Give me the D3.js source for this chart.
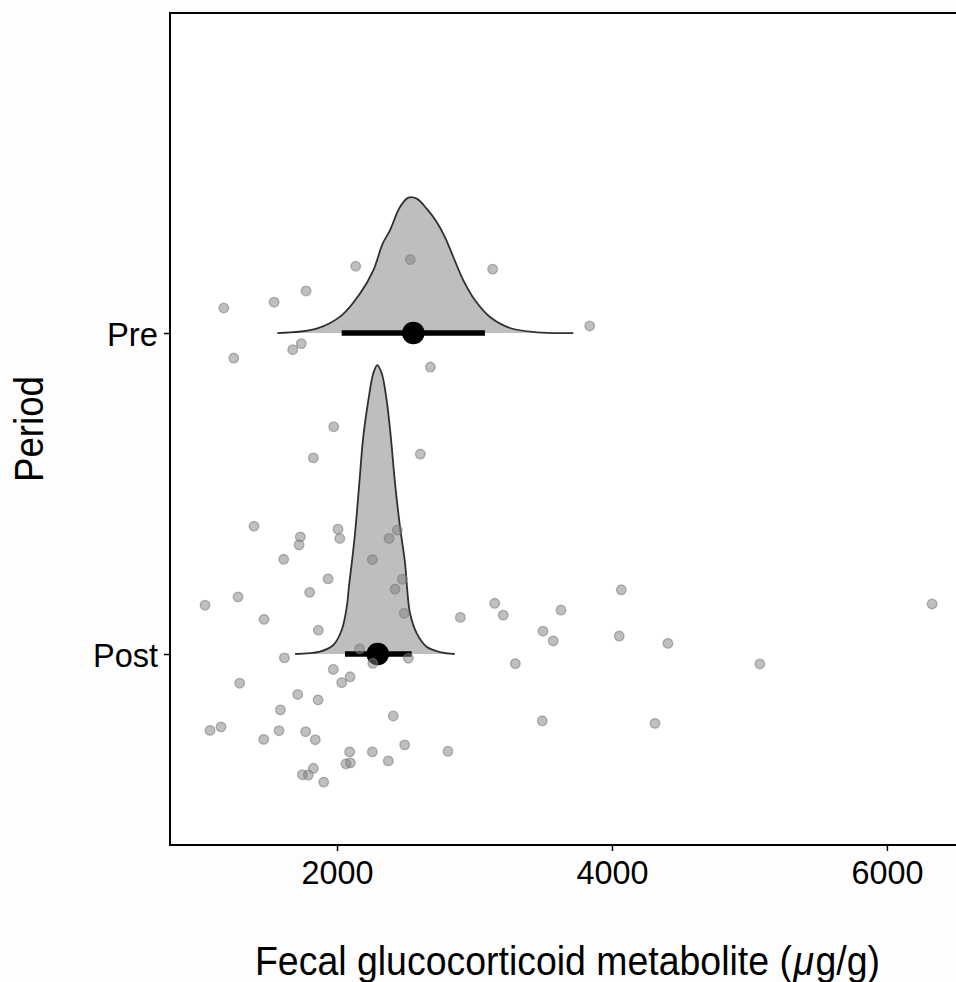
<!DOCTYPE html>
<html><head><meta charset="utf-8">
<script src="https://cdn.jsdelivr.net/npm/d3@7/dist/d3.min.js"></script>
<style>
html,body{margin:0;padding:0;background:#fdfdfd;}
svg{display:block;}
</style></head>
<body>
<script>
// ---- data ----
const categories = ["Post", "Pre"];
const xTicks = [2000, 4000, 6000];
const xLabelParts = [
  {t: "Fecal glucocorticoid metabolite (", italic: false},
  {t: "\u03BC", italic: true},
  {t: "g/g)", italic: false}
];
const yLabel = "Period";

// raw observations: value and vertical jitter (in category units)
const preValues  = [1176,1542,1775,2136,2533,3132,3838,1740,1678,1249,2679];
const preJitter  = [0.078,0.096,0.131,0.208,0.229,0.199,0.022,-0.033,-0.052,-0.078,-0.106];
const postValues = [1976,1828,2606,1396,1733,1724,2007,2020,2439,2378,1612,2257,1935,2475,2422,1801,1280,
  1040,1469,2489,2897,3147,3209,1864,2165,1617,2519,2260,1973,2095,2034,1292,1714,1862,1588,2409,1156,1076,1578,1772,1467,1842,2492,2807,2092,2257,2373,2097,2065,1828,1748,1791,1903,
  3629,3498,3573,3297,4068,4053,4407,5076,6329,3493,4313];
const postJitter = [0.708,0.611,0.623,0.398,0.365,0.340,0.389,0.360,0.386,0.360,0.295,0.294,0.234,0.233,0.202,0.192,0.178,
  0.152,0.108,0.127,0.114,0.158,0.121,0.074,0.016,-0.012,-0.013,-0.029,-0.048,-0.071,-0.089,-0.091,-0.126,-0.143,-0.174,-0.193,-0.227,-0.238,-0.239,-0.242,-0.266,-0.267,-0.283,-0.303,-0.305,-0.305,-0.333,-0.339,-0.342,-0.356,-0.376,-0.377,-0.399,
  0.137,0.071,0.041,-0.030,0.200,0.056,0.033,-0.031,0.156,-0.208,-0.216];

// estimate distributions (slab): value and relative height
const preDensX = [1566,1852,2034,2167,2264,2332,2385,2458,2519,2580,2652,2725,2785,2846,2919,3004,3113,3258,3452,3719];
const preDensH = [0,0.0137,0.0551,0.1227,0.1953,0.2785,0.32,0.3925,0.4218,0.4187,0.3875,0.3458,0.299,0.2368,0.1642,0.1019,0.0498,0.0156,0.0022,0];
const postDensX = [1695,1876,1973,2034,2071,2087,2107,2131,2162,2191,2228,2264,2293,2325,2361,2391,2422,2458,2495,2509,2531,2580,2652,2749,2856];
const postDensH = [0,0.0072,0.028,0.0748,0.1474,0.2118,0.2826,0.376,0.5318,0.677,0.7913,0.8745,0.9003,0.8745,0.7913,0.677,0.5318,0.3966,0.2826,0.2087,0.1268,0.0645,0.0227,0.0062,0];

// point + interval summaries
const medians   = {Pre: 2555, Post: 2296};
const intLow    = {Pre: 2034, Post: 2058};
const intHigh   = {Pre: 3076, Post: 2543};

// ---- layout ----
const W = 956, H = 982;
const panel = {left: 170, top: 13, right: 968, bottom: 845};
const FONT = "Liberation Sans, Arial, Helvetica, sans-serif";

const svg = d3.select("body").append("svg").attr("width", W).attr("height", H);
svg.append("rect").attr("width", W).attr("height", H).attr("fill", "#fdfdfd");

const x = d3.scaleLinear().domain([785, 6590]).range([panel.left, panel.right]);
const y = d3.scaleLinear().domain([0.405, 2.997]).range([panel.bottom, panel.top]);
const catPos = {Post: 1, Pre: 2};

svg.append("rect").attr("x", panel.left).attr("y", panel.top)
  .attr("width", panel.right - panel.left).attr("height", panel.bottom - panel.top)
  .attr("fill", "#ffffff");

svg.append("clipPath").attr("id", "clip").append("rect")
  .attr("x", panel.left).attr("y", panel.top)
  .attr("width", panel.right - panel.left).attr("height", panel.bottom - panel.top);
const g = svg.append("g").attr("clip-path", "url(#clip)");

// slabs
function slab(cat, xs, hs) {
  const pts = xs.map((v, i) => [v, hs[i]]);
  const area = d3.area().x(d => x(d[0])).y0(y(catPos[cat])).y1(d => y(catPos[cat] + d[1])).curve(d3.curveCatmullRom);
  const line = d3.line().x(d => x(d[0])).y(d => y(catPos[cat] + d[1])).curve(d3.curveCatmullRom);
  g.append("path").datum(pts).attr("d", area).attr("fill", "#bebebe");
  g.append("path").datum(pts).attr("d", line).attr("fill", "none").attr("stroke", "#303030").attr("stroke-width", 1.8);
}
slab("Pre", preDensX, preDensH);
slab("Post", postDensX, postDensH);

// intervals and medians
categories.forEach(c => {
  g.append("line").attr("x1", x(intLow[c])).attr("x2", x(intHigh[c]))
    .attr("y1", y(catPos[c])).attr("y2", y(catPos[c]))
    .attr("stroke", "#000").attr("stroke-width", 5.7);
  g.append("circle").attr("cx", x(medians[c])).attr("cy", y(catPos[c])).attr("r", 11.3).attr("fill", "#000");
});

// raw points
const pts = preValues.map((v, i) => ({v, j: preJitter[i], c: "Pre"}))
  .concat(postValues.map((v, i) => ({v, j: postJitter[i], c: "Post"})));
g.selectAll("circle.obs").data(pts).enter().append("circle").attr("class", "obs")
  .attr("cx", d => x(d.v)).attr("cy", d => y(catPos[d.c] + d.j)).attr("r", 4.8)
  .attr("fill", "rgba(128,128,128,0.5)").attr("stroke", "rgba(120,120,120,0.55)").attr("stroke-width", 1.3);

// panel border
svg.append("rect").attr("x", panel.left).attr("y", panel.top)
  .attr("width", panel.right - panel.left).attr("height", panel.bottom - panel.top)
  .attr("fill", "none").attr("stroke", "#000").attr("stroke-width", 2);

// axes
const xAxis = d3.axisBottom(x).tickValues(xTicks).tickSize(6).tickSizeOuter(0).tickFormat(d3.format("d"));
const xa = svg.append("g").attr("transform", `translate(0,${panel.bottom})`).call(xAxis);
xa.select(".domain").remove();
xa.selectAll(".tick line").attr("stroke", "#000").attr("stroke-width", 1.5).attr("y1", 1);
xa.selectAll(".tick text").attr("fill", "#000").attr("font-size", 34).attr("font-family", FONT)
  .attr("y", 15).attr("dy", "0.71em").attr("textLength", 72).attr("lengthAdjust", "spacingAndGlyphs");

const yBand = d3.scaleOrdinal().domain(categories).range(categories.map(c => y(catPos[c])));
const yAxis = d3.axisLeft(yBand).tickSize(6);
const ya = svg.append("g").attr("transform", `translate(${panel.left},0)`).call(yAxis);
ya.select(".domain").remove();
ya.selectAll(".tick line").attr("stroke", "#000").attr("stroke-width", 1.5).attr("x1", -1);
ya.selectAll(".tick text").attr("fill", "#000").attr("font-size", 34).attr("font-family", FONT)
  .attr("x", -12).attr("dy", "0.36em")
  .attr("textLength", d => d === "Pre" ? 51 : 65).attr("lengthAdjust", "spacingAndGlyphs");

// x-axis title: pieces laid out side by side, then horizontally condensed to fit
const titleLeft = 255, titleWidth = 625, titleBase = 975;
const tg = svg.append("g");
let cursor = 0;
xLabelParts.forEach((p, i) => {
  const t = tg.append("text").attr("x", cursor).attr("y", 0)
    .attr("font-size", 40).attr("font-family", FONT).attr("fill", "#000")
    .attr("font-style", p.italic ? "italic" : "normal").text(p.t);
  cursor += t.node().getComputedTextLength() + (i < xLabelParts.length - 1 ? 1.5 : 0);
});
tg.attr("transform", `translate(${titleLeft},${titleBase}) scale(${titleWidth / cursor},1)`);

svg.append("text").attr("transform", `translate(43,${(376 + 482) / 2}) rotate(-90)`).attr("text-anchor", "middle")
  .attr("font-size", 40).attr("font-family", FONT).attr("fill", "#000")
  .attr("textLength", 106).attr("lengthAdjust", "spacingAndGlyphs").text(yLabel);
</script>
</body></html>
